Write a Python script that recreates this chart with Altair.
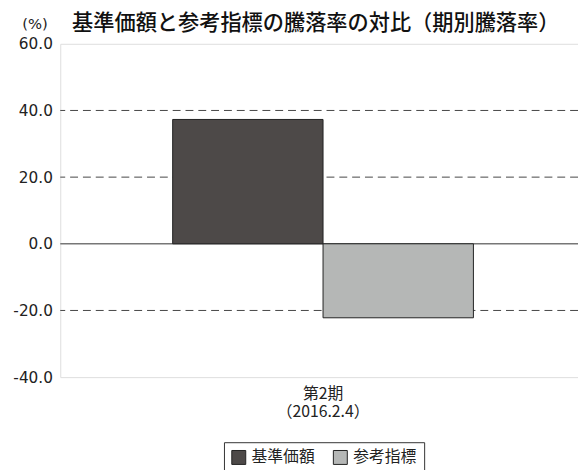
import altair as alt
import pandas as pd

categories = ["第2期"]
series = ["基準価額", "参考指標"]
values = [37.3, -22.2]
colors = ["#4d4948", "#b5b7b6"]
y_ticks = [-40, -20, 0, 20, 40, 60]
grid_dashed = [40, 20, -20]
zero_line = [0]

df = pd.DataFrame({"期": categories * 2, "系列": series, "騰落率": values})
grid_df = pd.DataFrame({"v": grid_dashed})
zero_df = pd.DataFrame({"v": zero_line})

JP = "Noto Sans CJK JP"
NUM = "DejaVu Sans"

yscale = alt.Scale(domain=[-40, 60], nice=False, zero=False)

grid = alt.Chart(grid_df).mark_rule(color="#444", strokeDash=[8, 5], strokeWidth=1).encode(
    y=alt.Y("v:Q", scale=yscale)
)
zero = alt.Chart(zero_df).mark_rule(color="#777", strokeWidth=1.5).encode(
    y=alt.Y("v:Q", scale=yscale)
)

bars = alt.Chart(df).mark_bar(stroke="#222", strokeWidth=1).encode(
    x=alt.X(
        "期:N",
        scale=alt.Scale(paddingInner=0, paddingOuter=0.3607, align=0.518),
        axis=alt.Axis(
            title=None,
            labelAngle=0,
            labelExpr="['第2期', '（2016.2.4）']",
            labelFont=JP,
            labelFontSize=16,
            labelColor="#222",
            labelLineHeight=18,
            labelPadding=9,
            ticks=False,
            domain=False,
        ),
    ),
    xOffset=alt.XOffset("系列:N", sort=series, scale=alt.Scale(paddingInner=0, paddingOuter=0)),
    y=alt.Y(
        "騰落率:Q",
        scale=yscale,
        axis=alt.Axis(
            values=y_ticks,
            labelExpr="replace(format(datum.value, '.1f'), '\u2212', '-')",
            title="(%)",
            titleAngle=0,
            titleAlign="left",
            titleBaseline="middle",
            titleX=-39,
            titleY=-21,
            titleFont=NUM,
            titleFontSize=15,
            titleFontWeight="normal",
            titleColor="#222",
            labelFont=NUM,
            labelFontSize=15.5,
            labelColor="#222",
            labelPadding=8,
            ticks=False,
            domain=False,
            grid=False,
        ),
    ),
    color=alt.Color(
        "系列:N",
        sort=series,
        scale=alt.Scale(domain=series, range=colors),
        legend=alt.Legend(
            title=None,
            orient="none",
            legendX=166,
            legendY=404,
            direction="horizontal",
            symbolType="square",
            symbolSize=200,
            symbolStrokeColor="#222",
            symbolStrokeWidth=1,
            labelFont=JP,
            labelFontSize=16,
            labelColor="#222",
            labelOffset=5,
            columnPadding=15,
            strokeColor="#333",
            padding=7,
        ),
    ),
)

chart = alt.layer(grid, zero, bars).properties(
    width=525,
    height=338,
    padding={"left": 53, "top": 33, "right": 0, "bottom": 100},
    autosize=alt.AutoSizeParams(type="none"),
    title=alt.TitleParams(
        "基準価額と参考指標の騰落率の対比（期別騰落率）",
        anchor="start",
        frame="group",
        dx=12,
        offset=-19,
        font=JP,
        fontSize=21.5,
        fontWeight=500,
        color="#111",
    ),
).configure_view(stroke="#555", strokeWidth=1).configure(background="white")

chart.save("out.html", embed_options={"renderer": "svg", "actions": False})
